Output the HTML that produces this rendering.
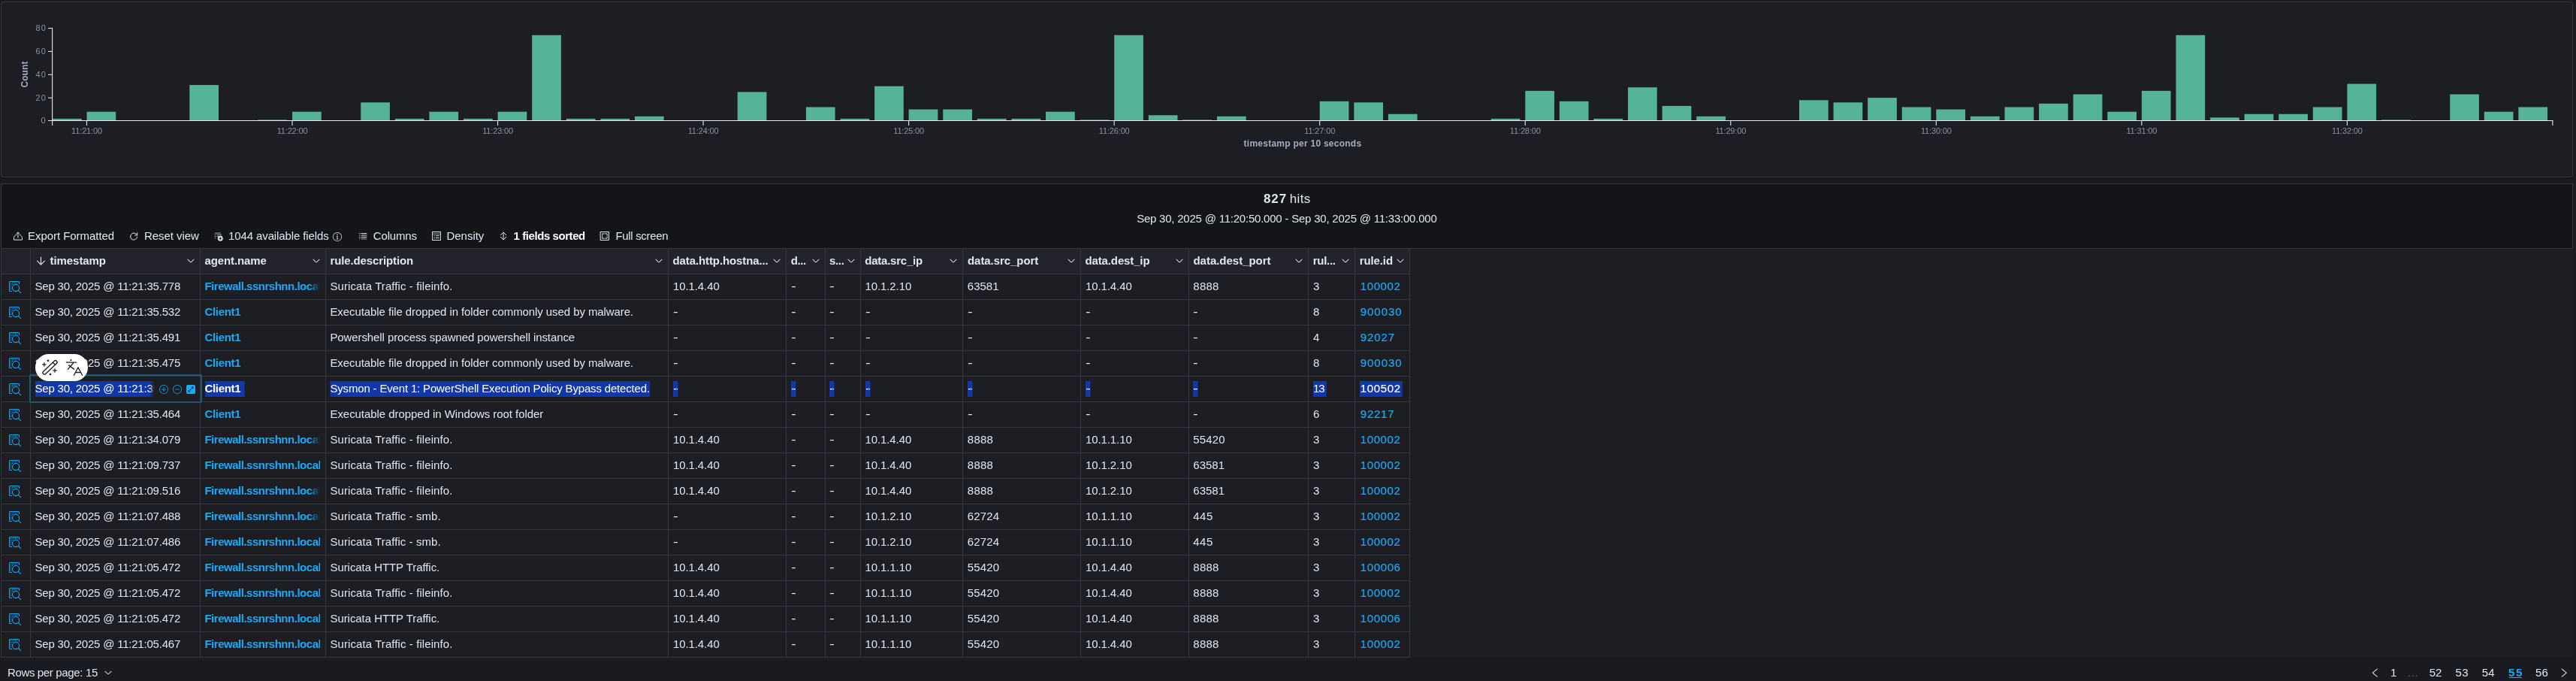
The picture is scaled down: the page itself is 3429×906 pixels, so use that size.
<!DOCTYPE html>
<html><head><meta charset="utf-8"><title>Events</title>
<style>
html,body{margin:0;padding:0}
body{width:3429px;height:906px;background:#1a1b20;position:relative;overflow:hidden;font-family:"Liberation Sans", sans-serif;color:#dfe5ef;-webkit-font-smoothing:antialiased}
.t{position:absolute;white-space:pre;display:block}
.a{position:absolute}
.v{position:absolute;width:1px;background:#343741}
.h{position:absolute;height:1px;background:#343741}
svg{position:absolute;overflow:visible}
.sel{background:#1237a8;color:#fff !important;clip-path:inset(1px 0 0 0)}
</style></head><body><div id='root' style='position:absolute;left:0;top:0;width:3429px;height:906px;will-change:transform'>
<div class='a' style='left:1px;top:2px;width:3422px;height:232px;border:1px solid #343741;border-radius:3px;background:#1d1e24;box-shadow:0 2px 2px -1px rgba(0,0,0,.35)'></div><svg width='3429' height='240' style='left:0;top:0' viewBox='0 0 3429 240'><g fill='#54b399'><rect x='69.95' y='157.91' width='38.7' height='3.09'/><rect x='115.54' y='148.65' width='38.7' height='12.35'/><rect x='252.31' y='113.14' width='38.7' height='47.86'/><rect x='343.48' y='159.46' width='38.7' height='1.54'/><rect x='389.07' y='148.65' width='38.7' height='12.35'/><rect x='480.25' y='136.30' width='38.7' height='24.70'/><rect x='525.84' y='157.91' width='38.7' height='3.09'/><rect x='571.43' y='148.65' width='38.7' height='12.35'/><rect x='617.02' y='157.91' width='38.7' height='3.09'/><rect x='662.61' y='148.65' width='38.7' height='12.35'/><rect x='708.20' y='46.74' width='38.7' height='114.26'/><rect x='753.79' y='157.91' width='38.7' height='3.09'/><rect x='799.37' y='157.91' width='38.7' height='3.09'/><rect x='844.96' y='154.82' width='38.7' height='6.18'/><rect x='981.73' y='122.40' width='38.7' height='38.60'/><rect x='1072.91' y='142.47' width='38.7' height='18.53'/><rect x='1118.50' y='157.91' width='38.7' height='3.09'/><rect x='1164.09' y='114.68' width='38.7' height='46.32'/><rect x='1209.67' y='145.56' width='38.7' height='15.44'/><rect x='1255.26' y='145.56' width='38.7' height='15.44'/><rect x='1300.85' y='157.91' width='38.7' height='3.09'/><rect x='1346.44' y='157.91' width='38.7' height='3.09'/><rect x='1392.03' y='148.65' width='38.7' height='12.35'/><rect x='1437.62' y='159.46' width='38.7' height='1.54'/><rect x='1483.21' y='46.74' width='38.7' height='114.26'/><rect x='1528.80' y='153.28' width='38.7' height='7.72'/><rect x='1574.39' y='159.46' width='38.7' height='1.54'/><rect x='1619.98' y='154.82' width='38.7' height='6.18'/><rect x='1756.74' y='134.75' width='38.7' height='26.25'/><rect x='1802.33' y='136.30' width='38.7' height='24.70'/><rect x='1847.92' y='151.74' width='38.7' height='9.26'/><rect x='1984.69' y='157.91' width='38.7' height='3.09'/><rect x='2030.28' y='120.86' width='38.7' height='40.14'/><rect x='2075.87' y='134.75' width='38.7' height='26.25'/><rect x='2121.45' y='157.91' width='38.7' height='3.09'/><rect x='2167.04' y='116.22' width='38.7' height='44.78'/><rect x='2212.63' y='140.93' width='38.7' height='20.07'/><rect x='2258.22' y='154.82' width='38.7' height='6.18'/><rect x='2394.99' y='133.21' width='38.7' height='27.79'/><rect x='2440.58' y='136.30' width='38.7' height='24.70'/><rect x='2486.17' y='130.12' width='38.7' height='30.88'/><rect x='2531.76' y='142.47' width='38.7' height='18.53'/><rect x='2577.34' y='145.56' width='38.7' height='15.44'/><rect x='2622.93' y='154.82' width='38.7' height='6.18'/><rect x='2668.52' y='142.47' width='38.7' height='18.53'/><rect x='2714.11' y='137.84' width='38.7' height='23.16'/><rect x='2759.70' y='125.49' width='38.7' height='35.51'/><rect x='2805.29' y='148.65' width='38.7' height='12.35'/><rect x='2850.88' y='120.86' width='38.7' height='40.14'/><rect x='2896.47' y='46.74' width='38.7' height='114.26'/><rect x='2942.06' y='156.37' width='38.7' height='4.63'/><rect x='2987.65' y='151.74' width='38.7' height='9.26'/><rect x='3033.23' y='151.74' width='38.7' height='9.26'/><rect x='3078.82' y='142.47' width='38.7' height='18.53'/><rect x='3124.41' y='111.59' width='38.7' height='49.41'/><rect x='3170.00' y='159.46' width='38.7' height='1.54'/><rect x='3261.18' y='125.49' width='38.7' height='35.51'/><rect x='3306.77' y='148.65' width='38.7' height='12.35'/><rect x='3352.36' y='142.47' width='38.7' height='18.53'/></g><g stroke='#e4e6ea' stroke-width='1.1' fill='none'><path d='M69.6 37V167'/><path d='M64 160.55H3398.4'/><path d='M64 37.6H69.5'/><path d='M64 68.45H69.5'/><path d='M64 99.3H69.5'/><path d='M64 130.2H69.5'/><path d='M115.49 160.5V167'/><path d='M389.02 160.5V167'/><path d='M662.56 160.5V167'/><path d='M936.09 160.5V167'/><path d='M1209.62 160.5V167'/><path d='M1483.16 160.5V167'/><path d='M1756.69 160.5V167'/><path d='M2030.23 160.5V167'/><path d='M2303.76 160.5V167'/><path d='M2577.30 160.5V167'/><path d='M2850.83 160.5V167'/><path d='M3124.36 160.5V167'/><path d='M3397.9 160.5V167'/></g></svg><span class='t' style='left:47.55px;top:29.10px;font-size:11px;line-height:16px;color:#8b92a0;letter-spacing:1.157px;'>80</span><span class='t' style='left:47.55px;top:59.95px;font-size:11px;line-height:16px;color:#8b92a0;letter-spacing:1.157px;'>60</span><span class='t' style='left:47.55px;top:90.80px;font-size:11px;line-height:16px;color:#8b92a0;letter-spacing:1.157px;'>40</span><span class='t' style='left:47.55px;top:121.70px;font-size:11px;line-height:16px;color:#8b92a0;letter-spacing:1.157px;'>20</span><span class='t' style='left:54.55px;top:152.10px;font-size:11px;line-height:16px;color:#8b92a0;'>0</span><span class='t' style='left:95.12px;top:166.00px;font-size:11px;line-height:16px;color:#8b92a0;letter-spacing:-0.153px;'>11:21:00</span><span class='t' style='left:368.65px;top:166.00px;font-size:11px;line-height:16px;color:#8b92a0;letter-spacing:-0.153px;'>11:22:00</span><span class='t' style='left:642.19px;top:166.00px;font-size:11px;line-height:16px;color:#8b92a0;letter-spacing:-0.153px;'>11:23:00</span><span class='t' style='left:915.72px;top:166.00px;font-size:11px;line-height:16px;color:#8b92a0;letter-spacing:-0.153px;'>11:24:00</span><span class='t' style='left:1189.25px;top:166.00px;font-size:11px;line-height:16px;color:#8b92a0;letter-spacing:-0.153px;'>11:25:00</span><span class='t' style='left:1462.79px;top:166.00px;font-size:11px;line-height:16px;color:#8b92a0;letter-spacing:-0.153px;'>11:26:00</span><span class='t' style='left:1736.32px;top:166.00px;font-size:11px;line-height:16px;color:#8b92a0;letter-spacing:-0.153px;'>11:27:00</span><span class='t' style='left:2009.86px;top:166.00px;font-size:11px;line-height:16px;color:#8b92a0;letter-spacing:-0.153px;'>11:28:00</span><span class='t' style='left:2283.39px;top:166.00px;font-size:11px;line-height:16px;color:#8b92a0;letter-spacing:-0.153px;'>11:29:00</span><span class='t' style='left:2556.92px;top:166.00px;font-size:11px;line-height:16px;color:#8b92a0;letter-spacing:-0.153px;'>11:30:00</span><span class='t' style='left:2830.46px;top:166.00px;font-size:11px;line-height:16px;color:#8b92a0;letter-spacing:-0.153px;'>11:31:00</span><span class='t' style='left:3103.99px;top:166.00px;font-size:11px;line-height:16px;color:#8b92a0;letter-spacing:-0.153px;'>11:32:00</span><span class='t' style='left:1655.61px;top:182.10px;font-size:12px;line-height:18px;color:#a3aabb;font-weight:700;letter-spacing:0.249px;'>timestamp per 10 seconds</span><span class='t' style='left:32.8px;top:99.3px;font-size:12px;line-height:12px;font-weight:700;color:#a3aabb;letter-spacing:0.1px;transform:translate(-50%,-50%) rotate(-90deg)'>Count</span><div class='a' style='left:1px;top:244px;width:3422px;height:85px;border:1px solid #343741;background:#141519'></div><span class='t' style='left:1682.05px;top:252.00px;font-size:17px;line-height:26px;color:#dfe5ef;font-weight:700;letter-spacing:0.862px;'>827</span><span class='t' style='left:1716.63px;top:252.00px;font-size:17px;line-height:26px;color:#dfe5ef;letter-spacing:0.391px;'>hits</span><span class='t' style='left:1513.14px;top:280.00px;font-size:15px;line-height:22px;color:#dfe5ef;letter-spacing:-0.219px;'>Sep 30, 2025 @ 11:20:50.000 - Sep 30, 2025 @ 11:33:00.000</span><span class='t' style='left:37.04px;top:303.00px;font-size:15px;line-height:22px;color:#dfe5ef;letter-spacing:-0.052px;'>Export Formatted</span><span class='t' style='left:192.04px;top:303.00px;font-size:15px;line-height:22px;color:#dfe5ef;letter-spacing:-0.061px;'>Reset view</span><span class='t' style='left:304.04px;top:303.00px;font-size:15px;line-height:22px;color:#dfe5ef;letter-spacing:-0.111px;'>1044 available fields</span><span class='t' style='left:496.84px;top:303.00px;font-size:15px;line-height:22px;color:#dfe5ef;letter-spacing:-0.162px;'>Columns</span><span class='t' style='left:594.44px;top:303.00px;font-size:15px;line-height:22px;color:#dfe5ef;letter-spacing:-0.019px;'>Density</span><span class='t' style='left:683.54px;top:303.00px;font-size:15px;line-height:22px;color:#ffffff;font-weight:700;letter-spacing:-0.428px;'>1 fields sorted</span><span class='t' style='left:819.44px;top:303.00px;font-size:15px;line-height:22px;color:#dfe5ef;letter-spacing:-0.325px;'>Full screen</span><svg style='left:17.5px;top:307.5px' width='12' height='12' viewBox='0 0 12 12' fill='none' stroke='#dfe5ef' stroke-width='1.0' stroke-linecap='round' stroke-linejoin='round'><path d='M3.7 4.4C1.7 5 .5 6.800.5 8.700V11.100H11.500V8.700C11.500 6.800 10.300 5 8.300 4.400'/><path d='M5.950 8.200V1.100M3.950 3 5.950 1 7.950 3'/></svg><svg style='left:172px;top:307.5px' width='12' height='12' viewBox='0 0 12 12' fill='none' stroke='#dfe5ef' stroke-width='1.0' stroke-linecap='round' stroke-linejoin='round'><path d='M9.450 3.400A4.550 4.550 0 1 0 10.700 7.100'/><path d='M10.700 1.800V5H7.600'/></svg><svg style='left:284.5px;top:308.5px' width='12' height='12' viewBox='0 0 16 16' fill='#dfe5ef' ><path d='M1 1h11v1H1zM1 4h2v1H1zM1 7h2v1H1zM1 10h2v1H1zM5 4h8v1H5zM5 7h3v1H5z'/><circle cx='11' cy='11' r='4.6'/><path d='M11 8.6v4.8M8.6 11h4.8' stroke='#141519' stroke-width='1.3' fill='none'/></svg><svg style='left:443px;top:309px' width='12' height='12' viewBox='0 0 16 16' fill='#dfe5ef' ><path d='M8 16A8 8 0 1 1 8 0a8 8 0 0 1 0 16zm0-1A7 7 0 1 0 8 1a7 7 0 0 0 0 14z'/><circle cx='8' cy='4.3' r='1.1'/><path d='M6.3 6.6h2.4v5h1.2v1H6.1v-1h1.4v-4H6.3z'/></svg><svg style='left:477px;top:308px' width='12' height='12' viewBox='0 0 16 16' fill='#dfe5ef' ><path d='M1.5 2.6h1.6v1.3H1.5zM1.5 5.9h1.6v1.3H1.5zM1.5 9.2h1.6v1.3H1.5zM1.5 12.5h1.6v1.3H1.5zM5 2.6h10v1.3H5zM5 5.9h10v1.3H5zM5 9.2h10v1.3H5zM5 12.5h10v1.3H5z'/></svg><svg style='left:575px;top:308px' width='12' height='12' viewBox='0 0 16 16' fill='#dfe5ef' ><path d='M0 0h16v16H0zm1.2 1.2v2.4h13.6V1.2zM1.2 4.8v10h13.6v-10z' fill-rule='evenodd'/><path d='M3 7h2v1.3H3zM6.5 7H13v1.3H6.5zM3 10.6h2v1.3H3zM6.5 10.6H13v1.3H6.5z'/></svg><svg style='left:663.5px;top:308px' width='12' height='12' viewBox='0 0 12 12' fill='none' stroke='#dfe5ef' stroke-width='1.0' stroke-linecap='round' stroke-linejoin='round'><path d='M6.100 1.300V10.800M2.500 4.700 6.100 1.100 9.700 4.700M2.500 7.300 6.100 10.900 9.700 7.300'/></svg><svg style='left:799px;top:308px' width='12' height='12' viewBox='0 0 12 12' fill='none' stroke='#dfe5ef' stroke-width='1.0' stroke-linecap='round' stroke-linejoin='round'><path d='M.5.5H11.500V11.500H.5z'/><path d='M2.700 5.800V2.900H5.700M6.300 2.900H9.200V5.800M9.200 6.300V9.200H6.300M5.700 9.200H2.700V6.300' stroke-linecap='butt' stroke-linejoin='miter'/></svg><div class='a' style='left:1px;top:331px;width:3424px;height:544px;background:#1d1e24'></div><div class='a' style='left:2px;top:331px;width:1874px;height:33px;background:#22232b'></div><div class='h' style='left:1px;top:330px;width:3424px'></div><div class='v' style='left:1px;top:330px;height:545px'></div><div class='v' style='left:40px;top:331px;height:544px'></div><div class='v' style='left:266px;top:331px;height:544px'></div><div class='v' style='left:433px;top:331px;height:544px'></div><div class='v' style='left:889px;top:331px;height:544px'></div><div class='v' style='left:1046px;top:331px;height:544px'></div><div class='v' style='left:1098px;top:331px;height:544px'></div><div class='v' style='left:1145px;top:331px;height:544px'></div><div class='v' style='left:1281px;top:331px;height:544px'></div><div class='v' style='left:1438px;top:331px;height:544px'></div><div class='v' style='left:1582px;top:331px;height:544px'></div><div class='v' style='left:1741px;top:331px;height:544px'></div><div class='v' style='left:1803px;top:331px;height:544px'></div><div class='v' style='left:1876px;top:331px;height:544px'></div><div class='h' style='left:1px;top:364px;width:1876px'></div><div class='h' style='left:1px;top:398px;width:1876px'></div><div class='h' style='left:1px;top:432px;width:1876px'></div><div class='h' style='left:1px;top:466px;width:1876px'></div><div class='h' style='left:1px;top:500px;width:1876px'></div><div class='h' style='left:1px;top:534px;width:1876px'></div><div class='h' style='left:1px;top:568px;width:1876px'></div><div class='h' style='left:1px;top:602px;width:1876px'></div><div class='h' style='left:1px;top:636px;width:1876px'></div><div class='h' style='left:1px;top:670px;width:1876px'></div><div class='h' style='left:1px;top:704px;width:1876px'></div><div class='h' style='left:1px;top:738px;width:1876px'></div><div class='h' style='left:1px;top:772px;width:1876px'></div><div class='h' style='left:1px;top:806px;width:1876px'></div><div class='h' style='left:1px;top:840px;width:1876px'></div><div class='h' style='left:1px;top:874px;width:1876px'></div><span class='t' style='left:66.54px;top:336.00px;font-size:15px;line-height:22px;color:#dfe5ef;font-weight:700;letter-spacing:-0.065px;'>timestamp</span><svg style='left:248px;top:341px' width='12' height='12' viewBox='0 0 16 16' fill='#dfe5ef' ><path d='M13.069 5.157 8.384 9.768a.546.546 0 0 1-.768 0L2.93 5.158a.552.552 0 0 0-.771 0 .53.53 0 0 0 0 .759l4.684 4.61c.641.631 1.672.63 2.312 0l4.684-4.61a.53.53 0 0 0 0-.76.552.552 0 0 0-.771 0z'/></svg><span class='t' style='left:272.54px;top:336.00px;font-size:15px;line-height:22px;color:#dfe5ef;font-weight:700;letter-spacing:-0.116px;'>agent.name</span><svg style='left:415px;top:341px' width='12' height='12' viewBox='0 0 16 16' fill='#dfe5ef' ><path d='M13.069 5.157 8.384 9.768a.546.546 0 0 1-.768 0L2.93 5.158a.552.552 0 0 0-.771 0 .53.53 0 0 0 0 .759l4.684 4.61c.641.631 1.672.63 2.312 0l4.684-4.61a.53.53 0 0 0 0-.76.552.552 0 0 0-.771 0z'/></svg><span class='t' style='left:439.44px;top:336.00px;font-size:15px;line-height:22px;color:#dfe5ef;font-weight:700;letter-spacing:-0.121px;'>rule.description</span><svg style='left:871px;top:341px' width='12' height='12' viewBox='0 0 16 16' fill='#dfe5ef' ><path d='M13.069 5.157 8.384 9.768a.546.546 0 0 1-.768 0L2.93 5.158a.552.552 0 0 0-.771 0 .53.53 0 0 0 0 .759l4.684 4.61c.641.631 1.672.63 2.312 0l4.684-4.61a.53.53 0 0 0 0-.76.552.552 0 0 0-.771 0z'/></svg><span class='t' style='left:895.54px;top:336.00px;font-size:15px;line-height:22px;color:#dfe5ef;font-weight:700;letter-spacing:-0.109px;'>data.http.hostna...</span><svg style='left:1028px;top:341px' width='12' height='12' viewBox='0 0 16 16' fill='#dfe5ef' ><path d='M13.069 5.157 8.384 9.768a.546.546 0 0 1-.768 0L2.93 5.158a.552.552 0 0 0-.771 0 .53.53 0 0 0 0 .759l4.684 4.61c.641.631 1.672.63 2.312 0l4.684-4.61a.53.53 0 0 0 0-.76.552.552 0 0 0-.771 0z'/></svg><span class='t' style='left:1052.84px;top:336.00px;font-size:15px;line-height:22px;color:#dfe5ef;font-weight:700;letter-spacing:-0.419px;'>d...</span><svg style='left:1080px;top:341px' width='12' height='12' viewBox='0 0 16 16' fill='#dfe5ef' ><path d='M13.069 5.157 8.384 9.768a.546.546 0 0 1-.768 0L2.93 5.158a.552.552 0 0 0-.771 0 .53.53 0 0 0 0 .759l4.684 4.61c.641.631 1.672.63 2.312 0l4.684-4.61a.53.53 0 0 0 0-.76.552.552 0 0 0-.771 0z'/></svg><span class='t' style='left:1103.94px;top:336.00px;font-size:15px;line-height:22px;color:#dfe5ef;font-weight:700;letter-spacing:-0.315px;'>s...</span><svg style='left:1127px;top:341px' width='12' height='12' viewBox='0 0 16 16' fill='#dfe5ef' ><path d='M13.069 5.157 8.384 9.768a.546.546 0 0 1-.768 0L2.93 5.158a.552.552 0 0 0-.771 0 .53.53 0 0 0 0 .759l4.684 4.61c.641.631 1.672.63 2.312 0l4.684-4.61a.53.53 0 0 0 0-.76.552.552 0 0 0-.771 0z'/></svg><span class='t' style='left:1151.24px;top:336.00px;font-size:15px;line-height:22px;color:#dfe5ef;font-weight:700;letter-spacing:-0.230px;'>data.src_ip</span><svg style='left:1263px;top:341px' width='12' height='12' viewBox='0 0 16 16' fill='#dfe5ef' ><path d='M13.069 5.157 8.384 9.768a.546.546 0 0 1-.768 0L2.93 5.158a.552.552 0 0 0-.771 0 .53.53 0 0 0 0 .759l4.684 4.61c.641.631 1.672.63 2.312 0l4.684-4.61a.53.53 0 0 0 0-.76.552.552 0 0 0-.771 0z'/></svg><span class='t' style='left:1288.04px;top:336.00px;font-size:15px;line-height:22px;color:#dfe5ef;font-weight:700;letter-spacing:-0.069px;'>data.src_port</span><svg style='left:1420px;top:341px' width='12' height='12' viewBox='0 0 16 16' fill='#dfe5ef' ><path d='M13.069 5.157 8.384 9.768a.546.546 0 0 1-.768 0L2.93 5.158a.552.552 0 0 0-.771 0 .53.53 0 0 0 0 .759l4.684 4.61c.641.631 1.672.63 2.312 0l4.684-4.61a.53.53 0 0 0 0-.76.552.552 0 0 0-.771 0z'/></svg><span class='t' style='left:1444.54px;top:336.00px;font-size:15px;line-height:22px;color:#dfe5ef;font-weight:700;letter-spacing:-0.138px;'>data.dest_ip</span><svg style='left:1564px;top:341px' width='12' height='12' viewBox='0 0 16 16' fill='#dfe5ef' ><path d='M13.069 5.157 8.384 9.768a.546.546 0 0 1-.768 0L2.93 5.158a.552.552 0 0 0-.771 0 .53.53 0 0 0 0 .759l4.684 4.61c.641.631 1.672.63 2.312 0l4.684-4.61a.53.53 0 0 0 0-.76.552.552 0 0 0-.771 0z'/></svg><span class='t' style='left:1588.44px;top:336.00px;font-size:15px;line-height:22px;color:#dfe5ef;font-weight:700;letter-spacing:-0.019px;'>data.dest_port</span><svg style='left:1723px;top:341px' width='12' height='12' viewBox='0 0 16 16' fill='#dfe5ef' ><path d='M13.069 5.157 8.384 9.768a.546.546 0 0 1-.768 0L2.93 5.158a.552.552 0 0 0-.771 0 .53.53 0 0 0 0 .759l4.684 4.61c.641.631 1.672.63 2.312 0l4.684-4.61a.53.53 0 0 0 0-.76.552.552 0 0 0-.771 0z'/></svg><span class='t' style='left:1747.74px;top:336.00px;font-size:15px;line-height:22px;color:#dfe5ef;font-weight:700;letter-spacing:-0.292px;'>rul...</span><svg style='left:1785px;top:341px' width='12' height='12' viewBox='0 0 16 16' fill='#dfe5ef' ><path d='M13.069 5.157 8.384 9.768a.546.546 0 0 1-.768 0L2.93 5.158a.552.552 0 0 0-.771 0 .53.53 0 0 0 0 .759l4.684 4.61c.641.631 1.672.63 2.312 0l4.684-4.61a.53.53 0 0 0 0-.76.552.552 0 0 0-.771 0z'/></svg><span class='t' style='left:1809.74px;top:336.00px;font-size:15px;line-height:22px;color:#dfe5ef;font-weight:700;letter-spacing:-0.117px;'>rule.id</span><svg style='left:1858px;top:341px' width='12' height='12' viewBox='0 0 16 16' fill='#dfe5ef' ><path d='M13.069 5.157 8.384 9.768a.546.546 0 0 1-.768 0L2.93 5.158a.552.552 0 0 0-.771 0 .53.53 0 0 0 0 .759l4.684 4.61c.641.631 1.672.63 2.312 0l4.684-4.61a.53.53 0 0 0 0-.76.552.552 0 0 0-.771 0z'/></svg><svg style='left:48px;top:340px' width='14' height='14' viewBox='0 0 14 14' fill='none' stroke='#dfe5ef' stroke-width='1.15' stroke-linecap='round' stroke-linejoin='round'><path d='M6.5 2V12M1.6 7.2 6.5 12.1 11.4 7.2'/></svg><svg style='left:12px;top:374px' width='16' height='16' viewBox='0 0 16 16' fill='#1ba9f5' ><path d='M1.5 0h11A1.5 1.5 0 0 1 14 1.5V3.600a.5.5 0 0 1-1 0V1.500a.5.5 0 0 0-.5-.5h-11a.5.5 0 0 0-.5.5v11a.5.5 0 0 0 .5.5H3.600a.5.5 0 0 1 0 1H1.500A1.500 1.500 0 0 1 0 12.500v-11A1.500 1.500 0 0 1 1.500 0z'/><circle cx='2.5' cy='2.5' r='.55'/><circle cx='4.5' cy='2.5' r='.55'/><circle cx='6.5' cy='2.5' r='.55'/><circle cx='8.5' cy='2.5' r='.55'/><circle cx='10.5' cy='2.5' r='.55'/><circle cx='2.5' cy='4.5' r='.55'/><circle cx='2.5' cy='6.5' r='.55'/><circle cx='2.5' cy='8.5' r='.55'/><circle cx='2.5' cy='10.5' r='.55'/><circle cx='4.5' cy='4.5' r='.55'/><circle cx='9.050' cy='9.050' r='4.550' fill='none' stroke='#1ba9f5' stroke-width='1.050'/><path d='M12.400 12.400 15.550 15.550' stroke='#1ba9f5' stroke-width='1.050' stroke-linecap='round' fill='none'/></svg><span class='t' style='left:46.54px;top:370.00px;font-size:15px;line-height:22px;color:#dfe5ef;letter-spacing:-0.214px;'>Sep 30, 2025 @ 11:21:35.778</span><span class='t' style='left:272.44px;top:370.00px;font-size:15px;line-height:22px;color:#1ba9f5;font-weight:700;letter-spacing:-0.485px;width:154px;overflow:hidden;-webkit-mask-image:linear-gradient(to right,#000 calc(100% - 14px),transparent 100%);mask-image:linear-gradient(to right,#000 calc(100% - 14px),transparent 100%);'>Firewall.ssnrshnn.local</span><span class='t' style='left:439.44px;top:370.00px;font-size:15px;line-height:22px;color:#dfe5ef;letter-spacing:0.085px;'>Suricata Traffic - fileinfo.</span><span class='t' style='left:896.04px;top:370.00px;font-size:15px;line-height:22px;color:#dfe5ef;letter-spacing:-0.106px;'>10.1.4.40</span><span class='t' style='left:1053.00px;top:370.00px;font-size:15px;line-height:22px;color:#dfe5ef;transform:scaleX(1.35);transform-origin:0 50%;'>-</span><span class='t' style='left:1104.10px;top:370.00px;font-size:15px;line-height:22px;color:#dfe5ef;transform:scaleX(1.35);transform-origin:0 50%;'>-</span><span class='t' style='left:1151.54px;top:370.00px;font-size:15px;line-height:22px;color:#dfe5ef;letter-spacing:-0.106px;'>10.1.2.10</span><span class='t' style='left:1287.84px;top:370.00px;font-size:15px;line-height:22px;color:#dfe5ef;'>63581</span><span class='t' style='left:1445.04px;top:370.00px;font-size:15px;line-height:22px;color:#dfe5ef;letter-spacing:-0.106px;'>10.1.4.40</span><span class='t' style='left:1588.34px;top:370.00px;font-size:15px;line-height:22px;color:#dfe5ef;letter-spacing:0.246px;'>8888</span><span class='t' style='left:1747.94px;top:370.00px;font-size:15px;line-height:22px;color:#dfe5ef;'>3</span><span class='t' style='left:1810.84px;top:370.00px;font-size:15px;line-height:22px;color:#1ba9f5;letter-spacing:0.570px;-webkit-text-stroke:0.2px #1ba9f5;'>100002</span><svg style='left:12px;top:408px' width='16' height='16' viewBox='0 0 16 16' fill='#1ba9f5' ><path d='M1.5 0h11A1.5 1.5 0 0 1 14 1.5V3.600a.5.5 0 0 1-1 0V1.500a.5.5 0 0 0-.5-.5h-11a.5.5 0 0 0-.5.5v11a.5.5 0 0 0 .5.5H3.600a.5.5 0 0 1 0 1H1.500A1.500 1.500 0 0 1 0 12.500v-11A1.500 1.500 0 0 1 1.500 0z'/><circle cx='2.5' cy='2.5' r='.55'/><circle cx='4.5' cy='2.5' r='.55'/><circle cx='6.5' cy='2.5' r='.55'/><circle cx='8.5' cy='2.5' r='.55'/><circle cx='10.5' cy='2.5' r='.55'/><circle cx='2.5' cy='4.5' r='.55'/><circle cx='2.5' cy='6.5' r='.55'/><circle cx='2.5' cy='8.5' r='.55'/><circle cx='2.5' cy='10.5' r='.55'/><circle cx='4.5' cy='4.5' r='.55'/><circle cx='9.050' cy='9.050' r='4.550' fill='none' stroke='#1ba9f5' stroke-width='1.050'/><path d='M12.400 12.400 15.550 15.550' stroke='#1ba9f5' stroke-width='1.050' stroke-linecap='round' fill='none'/></svg><span class='t' style='left:46.54px;top:404.00px;font-size:15px;line-height:22px;color:#dfe5ef;letter-spacing:-0.214px;'>Sep 30, 2025 @ 11:21:35.532</span><span class='t' style='left:272.54px;top:404.00px;font-size:15px;line-height:22px;color:#1ba9f5;font-weight:700;letter-spacing:-0.334px;'>Client1</span><span class='t' style='left:439.44px;top:404.00px;font-size:15px;line-height:22px;color:#dfe5ef;letter-spacing:-0.083px;'>Executable file dropped in folder commonly used by malware.</span><span class='t' style='left:896.00px;top:404.00px;font-size:15px;line-height:22px;color:#dfe5ef;transform:scaleX(1.35);transform-origin:0 50%;'>-</span><span class='t' style='left:1053.00px;top:404.00px;font-size:15px;line-height:22px;color:#dfe5ef;transform:scaleX(1.35);transform-origin:0 50%;'>-</span><span class='t' style='left:1104.10px;top:404.00px;font-size:15px;line-height:22px;color:#dfe5ef;transform:scaleX(1.35);transform-origin:0 50%;'>-</span><span class='t' style='left:1151.50px;top:404.00px;font-size:15px;line-height:22px;color:#dfe5ef;transform:scaleX(1.35);transform-origin:0 50%;'>-</span><span class='t' style='left:1287.80px;top:404.00px;font-size:15px;line-height:22px;color:#dfe5ef;transform:scaleX(1.35);transform-origin:0 50%;'>-</span><span class='t' style='left:1445.00px;top:404.00px;font-size:15px;line-height:22px;color:#dfe5ef;transform:scaleX(1.35);transform-origin:0 50%;'>-</span><span class='t' style='left:1588.30px;top:404.00px;font-size:15px;line-height:22px;color:#dfe5ef;transform:scaleX(1.35);transform-origin:0 50%;'>-</span><span class='t' style='left:1747.94px;top:404.00px;font-size:15px;line-height:22px;color:#dfe5ef;'>8</span><span class='t' style='left:1810.84px;top:404.00px;font-size:15px;line-height:22px;color:#1ba9f5;letter-spacing:0.930px;-webkit-text-stroke:0.2px #1ba9f5;'>900030</span><svg style='left:12px;top:442px' width='16' height='16' viewBox='0 0 16 16' fill='#1ba9f5' ><path d='M1.5 0h11A1.5 1.5 0 0 1 14 1.5V3.600a.5.5 0 0 1-1 0V1.500a.5.5 0 0 0-.5-.5h-11a.5.5 0 0 0-.5.5v11a.5.5 0 0 0 .5.5H3.600a.5.5 0 0 1 0 1H1.500A1.500 1.500 0 0 1 0 12.500v-11A1.500 1.500 0 0 1 1.500 0z'/><circle cx='2.5' cy='2.5' r='.55'/><circle cx='4.5' cy='2.5' r='.55'/><circle cx='6.5' cy='2.5' r='.55'/><circle cx='8.5' cy='2.5' r='.55'/><circle cx='10.5' cy='2.5' r='.55'/><circle cx='2.5' cy='4.5' r='.55'/><circle cx='2.5' cy='6.5' r='.55'/><circle cx='2.5' cy='8.5' r='.55'/><circle cx='2.5' cy='10.5' r='.55'/><circle cx='4.5' cy='4.5' r='.55'/><circle cx='9.050' cy='9.050' r='4.550' fill='none' stroke='#1ba9f5' stroke-width='1.050'/><path d='M12.400 12.400 15.550 15.550' stroke='#1ba9f5' stroke-width='1.050' stroke-linecap='round' fill='none'/></svg><span class='t' style='left:46.54px;top:438.00px;font-size:15px;line-height:22px;color:#dfe5ef;letter-spacing:-0.214px;'>Sep 30, 2025 @ 11:21:35.491</span><span class='t' style='left:272.54px;top:438.00px;font-size:15px;line-height:22px;color:#1ba9f5;font-weight:700;letter-spacing:-0.334px;'>Client1</span><span class='t' style='left:439.44px;top:438.00px;font-size:15px;line-height:22px;color:#dfe5ef;letter-spacing:-0.099px;'>Powershell process spawned powershell instance</span><span class='t' style='left:896.00px;top:438.00px;font-size:15px;line-height:22px;color:#dfe5ef;transform:scaleX(1.35);transform-origin:0 50%;'>-</span><span class='t' style='left:1053.00px;top:438.00px;font-size:15px;line-height:22px;color:#dfe5ef;transform:scaleX(1.35);transform-origin:0 50%;'>-</span><span class='t' style='left:1104.10px;top:438.00px;font-size:15px;line-height:22px;color:#dfe5ef;transform:scaleX(1.35);transform-origin:0 50%;'>-</span><span class='t' style='left:1151.50px;top:438.00px;font-size:15px;line-height:22px;color:#dfe5ef;transform:scaleX(1.35);transform-origin:0 50%;'>-</span><span class='t' style='left:1287.80px;top:438.00px;font-size:15px;line-height:22px;color:#dfe5ef;transform:scaleX(1.35);transform-origin:0 50%;'>-</span><span class='t' style='left:1445.00px;top:438.00px;font-size:15px;line-height:22px;color:#dfe5ef;transform:scaleX(1.35);transform-origin:0 50%;'>-</span><span class='t' style='left:1588.30px;top:438.00px;font-size:15px;line-height:22px;color:#dfe5ef;transform:scaleX(1.35);transform-origin:0 50%;'>-</span><span class='t' style='left:1747.94px;top:438.00px;font-size:15px;line-height:22px;color:#dfe5ef;'>4</span><span class='t' style='left:1810.84px;top:438.00px;font-size:15px;line-height:22px;color:#1ba9f5;letter-spacing:0.874px;-webkit-text-stroke:0.2px #1ba9f5;'>92027</span><svg style='left:12px;top:476px' width='16' height='16' viewBox='0 0 16 16' fill='#1ba9f5' ><path d='M1.5 0h11A1.5 1.5 0 0 1 14 1.5V3.600a.5.5 0 0 1-1 0V1.500a.5.5 0 0 0-.5-.5h-11a.5.5 0 0 0-.5.5v11a.5.5 0 0 0 .5.5H3.600a.5.5 0 0 1 0 1H1.500A1.500 1.500 0 0 1 0 12.500v-11A1.500 1.500 0 0 1 1.500 0z'/><circle cx='2.5' cy='2.5' r='.55'/><circle cx='4.5' cy='2.5' r='.55'/><circle cx='6.5' cy='2.5' r='.55'/><circle cx='8.5' cy='2.5' r='.55'/><circle cx='10.5' cy='2.5' r='.55'/><circle cx='2.5' cy='4.5' r='.55'/><circle cx='2.5' cy='6.5' r='.55'/><circle cx='2.5' cy='8.5' r='.55'/><circle cx='2.5' cy='10.5' r='.55'/><circle cx='4.5' cy='4.5' r='.55'/><circle cx='9.050' cy='9.050' r='4.550' fill='none' stroke='#1ba9f5' stroke-width='1.050'/><path d='M12.400 12.400 15.550 15.550' stroke='#1ba9f5' stroke-width='1.050' stroke-linecap='round' fill='none'/></svg><span class='t' style='left:46.54px;top:472.00px;font-size:15px;line-height:22px;color:#dfe5ef;letter-spacing:-0.214px;'>Sep 30, 2025 @ 11:21:35.475</span><span class='t' style='left:272.54px;top:472.00px;font-size:15px;line-height:22px;color:#1ba9f5;font-weight:700;letter-spacing:-0.334px;'>Client1</span><span class='t' style='left:439.44px;top:472.00px;font-size:15px;line-height:22px;color:#dfe5ef;letter-spacing:-0.083px;'>Executable file dropped in folder commonly used by malware.</span><span class='t' style='left:896.00px;top:472.00px;font-size:15px;line-height:22px;color:#dfe5ef;transform:scaleX(1.35);transform-origin:0 50%;'>-</span><span class='t' style='left:1053.00px;top:472.00px;font-size:15px;line-height:22px;color:#dfe5ef;transform:scaleX(1.35);transform-origin:0 50%;'>-</span><span class='t' style='left:1104.10px;top:472.00px;font-size:15px;line-height:22px;color:#dfe5ef;transform:scaleX(1.35);transform-origin:0 50%;'>-</span><span class='t' style='left:1151.50px;top:472.00px;font-size:15px;line-height:22px;color:#dfe5ef;transform:scaleX(1.35);transform-origin:0 50%;'>-</span><span class='t' style='left:1287.80px;top:472.00px;font-size:15px;line-height:22px;color:#dfe5ef;transform:scaleX(1.35);transform-origin:0 50%;'>-</span><span class='t' style='left:1445.00px;top:472.00px;font-size:15px;line-height:22px;color:#dfe5ef;transform:scaleX(1.35);transform-origin:0 50%;'>-</span><span class='t' style='left:1588.30px;top:472.00px;font-size:15px;line-height:22px;color:#dfe5ef;transform:scaleX(1.35);transform-origin:0 50%;'>-</span><span class='t' style='left:1747.94px;top:472.00px;font-size:15px;line-height:22px;color:#dfe5ef;'>8</span><span class='t' style='left:1810.84px;top:472.00px;font-size:15px;line-height:22px;color:#1ba9f5;letter-spacing:0.930px;-webkit-text-stroke:0.2px #1ba9f5;'>900030</span><svg style='left:12px;top:510px' width='16' height='16' viewBox='0 0 16 16' fill='#1ba9f5' ><path d='M1.5 0h11A1.5 1.5 0 0 1 14 1.5V3.600a.5.5 0 0 1-1 0V1.500a.5.5 0 0 0-.5-.5h-11a.5.5 0 0 0-.5.5v11a.5.5 0 0 0 .5.5H3.600a.5.5 0 0 1 0 1H1.500A1.500 1.500 0 0 1 0 12.500v-11A1.500 1.500 0 0 1 1.500 0z'/><circle cx='2.5' cy='2.5' r='.55'/><circle cx='4.5' cy='2.5' r='.55'/><circle cx='6.5' cy='2.5' r='.55'/><circle cx='8.5' cy='2.5' r='.55'/><circle cx='10.5' cy='2.5' r='.55'/><circle cx='2.5' cy='4.5' r='.55'/><circle cx='2.5' cy='6.5' r='.55'/><circle cx='2.5' cy='8.5' r='.55'/><circle cx='2.5' cy='10.5' r='.55'/><circle cx='4.5' cy='4.5' r='.55'/><circle cx='9.050' cy='9.050' r='4.550' fill='none' stroke='#1ba9f5' stroke-width='1.050'/><path d='M12.400 12.400 15.550 15.550' stroke='#1ba9f5' stroke-width='1.050' stroke-linecap='round' fill='none'/></svg><span class='t sel' style='left:46.54px;top:506.00px;font-size:15px;line-height:22px;color:#dfe5ef;letter-spacing:-0.214px;width:159px;overflow:hidden;-webkit-mask-image:linear-gradient(to right,#000 152px,transparent 159px);mask-image:linear-gradient(to right,#000 152px,transparent 159px);'>Sep 30, 2025 @ 11:21:35.470</span><span class='t sel' style='left:272.54px;top:506.00px;font-size:15px;line-height:22px;color:#1ba9f5;font-weight:700;letter-spacing:-0.334px;padding-right:5.5px;'>Client1</span><span class='t sel' style='left:439.44px;top:506.00px;font-size:15px;line-height:22px;color:#dfe5ef;letter-spacing:-0.170px;'>Sysmon - Event 1: PowerShell Execution Policy Bypass detected.</span><span class='t sel' style='left:896.00px;top:506.00px;font-size:15px;line-height:22px;color:#dfe5ef;transform:scaleX(1.35);transform-origin:0 50%;'>-</span><span class='t sel' style='left:1053.00px;top:506.00px;font-size:15px;line-height:22px;color:#dfe5ef;transform:scaleX(1.35);transform-origin:0 50%;'>-</span><span class='t sel' style='left:1104.10px;top:506.00px;font-size:15px;line-height:22px;color:#dfe5ef;transform:scaleX(1.35);transform-origin:0 50%;'>-</span><span class='t sel' style='left:1151.50px;top:506.00px;font-size:15px;line-height:22px;color:#dfe5ef;transform:scaleX(1.35);transform-origin:0 50%;'>-</span><span class='t sel' style='left:1287.80px;top:506.00px;font-size:15px;line-height:22px;color:#dfe5ef;transform:scaleX(1.35);transform-origin:0 50%;'>-</span><span class='t sel' style='left:1445.00px;top:506.00px;font-size:15px;line-height:22px;color:#dfe5ef;transform:scaleX(1.35);transform-origin:0 50%;'>-</span><span class='t sel' style='left:1588.30px;top:506.00px;font-size:15px;line-height:22px;color:#dfe5ef;transform:scaleX(1.35);transform-origin:0 50%;'>-</span><span class='t sel' style='left:1747.94px;top:506.00px;font-size:15px;line-height:22px;color:#dfe5ef;letter-spacing:-0.973px;padding-right:3px;'>13</span><span class='t sel' style='left:1810.84px;top:506.00px;font-size:15px;line-height:22px;color:#1ba9f5;letter-spacing:0.630px;-webkit-text-stroke:0.2px #fff;margin-left:-1px;padding:0 2px 0 1px;'>100502</span><svg style='left:12px;top:544px' width='16' height='16' viewBox='0 0 16 16' fill='#1ba9f5' ><path d='M1.5 0h11A1.5 1.5 0 0 1 14 1.5V3.600a.5.5 0 0 1-1 0V1.500a.5.5 0 0 0-.5-.5h-11a.5.5 0 0 0-.5.5v11a.5.5 0 0 0 .5.5H3.600a.5.5 0 0 1 0 1H1.500A1.500 1.500 0 0 1 0 12.500v-11A1.500 1.500 0 0 1 1.500 0z'/><circle cx='2.5' cy='2.5' r='.55'/><circle cx='4.5' cy='2.5' r='.55'/><circle cx='6.5' cy='2.5' r='.55'/><circle cx='8.5' cy='2.5' r='.55'/><circle cx='10.5' cy='2.5' r='.55'/><circle cx='2.5' cy='4.5' r='.55'/><circle cx='2.5' cy='6.5' r='.55'/><circle cx='2.5' cy='8.5' r='.55'/><circle cx='2.5' cy='10.5' r='.55'/><circle cx='4.5' cy='4.5' r='.55'/><circle cx='9.050' cy='9.050' r='4.550' fill='none' stroke='#1ba9f5' stroke-width='1.050'/><path d='M12.400 12.400 15.550 15.550' stroke='#1ba9f5' stroke-width='1.050' stroke-linecap='round' fill='none'/></svg><span class='t' style='left:46.54px;top:540.00px;font-size:15px;line-height:22px;color:#dfe5ef;letter-spacing:-0.214px;'>Sep 30, 2025 @ 11:21:35.464</span><span class='t' style='left:272.54px;top:540.00px;font-size:15px;line-height:22px;color:#1ba9f5;font-weight:700;letter-spacing:-0.334px;'>Client1</span><span class='t' style='left:439.44px;top:540.00px;font-size:15px;line-height:22px;color:#dfe5ef;letter-spacing:-0.052px;'>Executable dropped in Windows root folder</span><span class='t' style='left:896.00px;top:540.00px;font-size:15px;line-height:22px;color:#dfe5ef;transform:scaleX(1.35);transform-origin:0 50%;'>-</span><span class='t' style='left:1053.00px;top:540.00px;font-size:15px;line-height:22px;color:#dfe5ef;transform:scaleX(1.35);transform-origin:0 50%;'>-</span><span class='t' style='left:1104.10px;top:540.00px;font-size:15px;line-height:22px;color:#dfe5ef;transform:scaleX(1.35);transform-origin:0 50%;'>-</span><span class='t' style='left:1151.50px;top:540.00px;font-size:15px;line-height:22px;color:#dfe5ef;transform:scaleX(1.35);transform-origin:0 50%;'>-</span><span class='t' style='left:1287.80px;top:540.00px;font-size:15px;line-height:22px;color:#dfe5ef;transform:scaleX(1.35);transform-origin:0 50%;'>-</span><span class='t' style='left:1445.00px;top:540.00px;font-size:15px;line-height:22px;color:#dfe5ef;transform:scaleX(1.35);transform-origin:0 50%;'>-</span><span class='t' style='left:1588.30px;top:540.00px;font-size:15px;line-height:22px;color:#dfe5ef;transform:scaleX(1.35);transform-origin:0 50%;'>-</span><span class='t' style='left:1747.94px;top:540.00px;font-size:15px;line-height:22px;color:#dfe5ef;'>6</span><span class='t' style='left:1810.84px;top:540.00px;font-size:15px;line-height:22px;color:#1ba9f5;letter-spacing:0.749px;-webkit-text-stroke:0.2px #1ba9f5;'>92217</span><svg style='left:12px;top:578px' width='16' height='16' viewBox='0 0 16 16' fill='#1ba9f5' ><path d='M1.5 0h11A1.5 1.5 0 0 1 14 1.5V3.600a.5.5 0 0 1-1 0V1.500a.5.5 0 0 0-.5-.5h-11a.5.5 0 0 0-.5.5v11a.5.5 0 0 0 .5.5H3.600a.5.5 0 0 1 0 1H1.500A1.500 1.500 0 0 1 0 12.500v-11A1.500 1.500 0 0 1 1.500 0z'/><circle cx='2.5' cy='2.5' r='.55'/><circle cx='4.5' cy='2.5' r='.55'/><circle cx='6.5' cy='2.5' r='.55'/><circle cx='8.5' cy='2.5' r='.55'/><circle cx='10.5' cy='2.5' r='.55'/><circle cx='2.5' cy='4.5' r='.55'/><circle cx='2.5' cy='6.5' r='.55'/><circle cx='2.5' cy='8.5' r='.55'/><circle cx='2.5' cy='10.5' r='.55'/><circle cx='4.5' cy='4.5' r='.55'/><circle cx='9.050' cy='9.050' r='4.550' fill='none' stroke='#1ba9f5' stroke-width='1.050'/><path d='M12.400 12.400 15.550 15.550' stroke='#1ba9f5' stroke-width='1.050' stroke-linecap='round' fill='none'/></svg><span class='t' style='left:46.54px;top:574.00px;font-size:15px;line-height:22px;color:#dfe5ef;letter-spacing:-0.214px;'>Sep 30, 2025 @ 11:21:34.079</span><span class='t' style='left:272.44px;top:574.00px;font-size:15px;line-height:22px;color:#1ba9f5;font-weight:700;letter-spacing:-0.485px;width:154px;overflow:hidden;-webkit-mask-image:linear-gradient(to right,#000 calc(100% - 14px),transparent 100%);mask-image:linear-gradient(to right,#000 calc(100% - 14px),transparent 100%);'>Firewall.ssnrshnn.local</span><span class='t' style='left:439.44px;top:574.00px;font-size:15px;line-height:22px;color:#dfe5ef;letter-spacing:0.085px;'>Suricata Traffic - fileinfo.</span><span class='t' style='left:896.04px;top:574.00px;font-size:15px;line-height:22px;color:#dfe5ef;letter-spacing:-0.106px;'>10.1.4.40</span><span class='t' style='left:1053.00px;top:574.00px;font-size:15px;line-height:22px;color:#dfe5ef;transform:scaleX(1.35);transform-origin:0 50%;'>-</span><span class='t' style='left:1104.10px;top:574.00px;font-size:15px;line-height:22px;color:#dfe5ef;transform:scaleX(1.35);transform-origin:0 50%;'>-</span><span class='t' style='left:1151.54px;top:574.00px;font-size:15px;line-height:22px;color:#dfe5ef;letter-spacing:-0.106px;'>10.1.4.40</span><span class='t' style='left:1287.84px;top:574.00px;font-size:15px;line-height:22px;color:#dfe5ef;letter-spacing:0.246px;'>8888</span><span class='t' style='left:1445.04px;top:574.00px;font-size:15px;line-height:22px;color:#dfe5ef;letter-spacing:-0.106px;'>10.1.1.10</span><span class='t' style='left:1588.34px;top:574.00px;font-size:15px;line-height:22px;color:#dfe5ef;letter-spacing:0.149px;'>55420</span><span class='t' style='left:1747.94px;top:574.00px;font-size:15px;line-height:22px;color:#dfe5ef;'>3</span><span class='t' style='left:1810.84px;top:574.00px;font-size:15px;line-height:22px;color:#1ba9f5;letter-spacing:0.570px;-webkit-text-stroke:0.2px #1ba9f5;'>100002</span><svg style='left:12px;top:612px' width='16' height='16' viewBox='0 0 16 16' fill='#1ba9f5' ><path d='M1.5 0h11A1.5 1.5 0 0 1 14 1.5V3.600a.5.5 0 0 1-1 0V1.500a.5.5 0 0 0-.5-.5h-11a.5.5 0 0 0-.5.5v11a.5.5 0 0 0 .5.5H3.600a.5.5 0 0 1 0 1H1.500A1.500 1.500 0 0 1 0 12.500v-11A1.500 1.500 0 0 1 1.500 0z'/><circle cx='2.5' cy='2.5' r='.55'/><circle cx='4.5' cy='2.5' r='.55'/><circle cx='6.5' cy='2.5' r='.55'/><circle cx='8.5' cy='2.5' r='.55'/><circle cx='10.5' cy='2.5' r='.55'/><circle cx='2.5' cy='4.5' r='.55'/><circle cx='2.5' cy='6.5' r='.55'/><circle cx='2.5' cy='8.5' r='.55'/><circle cx='2.5' cy='10.5' r='.55'/><circle cx='4.5' cy='4.5' r='.55'/><circle cx='9.050' cy='9.050' r='4.550' fill='none' stroke='#1ba9f5' stroke-width='1.050'/><path d='M12.400 12.400 15.550 15.550' stroke='#1ba9f5' stroke-width='1.050' stroke-linecap='round' fill='none'/></svg><span class='t' style='left:46.54px;top:608.00px;font-size:15px;line-height:22px;color:#dfe5ef;letter-spacing:-0.214px;'>Sep 30, 2025 @ 11:21:09.737</span><span class='t' style='left:272.44px;top:608.00px;font-size:15px;line-height:22px;color:#1ba9f5;font-weight:700;letter-spacing:-0.485px;width:154px;overflow:hidden;'>Firewall.ssnrshnn.local</span><span class='t' style='left:439.44px;top:608.00px;font-size:15px;line-height:22px;color:#dfe5ef;letter-spacing:0.085px;'>Suricata Traffic - fileinfo.</span><span class='t' style='left:896.04px;top:608.00px;font-size:15px;line-height:22px;color:#dfe5ef;letter-spacing:-0.106px;'>10.1.4.40</span><span class='t' style='left:1053.00px;top:608.00px;font-size:15px;line-height:22px;color:#dfe5ef;transform:scaleX(1.35);transform-origin:0 50%;'>-</span><span class='t' style='left:1104.10px;top:608.00px;font-size:15px;line-height:22px;color:#dfe5ef;transform:scaleX(1.35);transform-origin:0 50%;'>-</span><span class='t' style='left:1151.54px;top:608.00px;font-size:15px;line-height:22px;color:#dfe5ef;letter-spacing:-0.106px;'>10.1.4.40</span><span class='t' style='left:1287.84px;top:608.00px;font-size:15px;line-height:22px;color:#dfe5ef;letter-spacing:0.246px;'>8888</span><span class='t' style='left:1445.04px;top:608.00px;font-size:15px;line-height:22px;color:#dfe5ef;letter-spacing:-0.106px;'>10.1.2.10</span><span class='t' style='left:1588.34px;top:608.00px;font-size:15px;line-height:22px;color:#dfe5ef;'>63581</span><span class='t' style='left:1747.94px;top:608.00px;font-size:15px;line-height:22px;color:#dfe5ef;'>3</span><span class='t' style='left:1810.84px;top:608.00px;font-size:15px;line-height:22px;color:#1ba9f5;letter-spacing:0.570px;-webkit-text-stroke:0.2px #1ba9f5;'>100002</span><svg style='left:12px;top:646px' width='16' height='16' viewBox='0 0 16 16' fill='#1ba9f5' ><path d='M1.5 0h11A1.5 1.5 0 0 1 14 1.5V3.600a.5.5 0 0 1-1 0V1.500a.5.5 0 0 0-.5-.5h-11a.5.5 0 0 0-.5.5v11a.5.5 0 0 0 .5.5H3.600a.5.5 0 0 1 0 1H1.500A1.500 1.500 0 0 1 0 12.500v-11A1.500 1.500 0 0 1 1.500 0z'/><circle cx='2.5' cy='2.5' r='.55'/><circle cx='4.5' cy='2.5' r='.55'/><circle cx='6.5' cy='2.5' r='.55'/><circle cx='8.5' cy='2.5' r='.55'/><circle cx='10.5' cy='2.5' r='.55'/><circle cx='2.5' cy='4.5' r='.55'/><circle cx='2.5' cy='6.5' r='.55'/><circle cx='2.5' cy='8.5' r='.55'/><circle cx='2.5' cy='10.5' r='.55'/><circle cx='4.5' cy='4.5' r='.55'/><circle cx='9.050' cy='9.050' r='4.550' fill='none' stroke='#1ba9f5' stroke-width='1.050'/><path d='M12.400 12.400 15.550 15.550' stroke='#1ba9f5' stroke-width='1.050' stroke-linecap='round' fill='none'/></svg><span class='t' style='left:46.54px;top:642.00px;font-size:15px;line-height:22px;color:#dfe5ef;letter-spacing:-0.214px;'>Sep 30, 2025 @ 11:21:09.516</span><span class='t' style='left:272.44px;top:642.00px;font-size:15px;line-height:22px;color:#1ba9f5;font-weight:700;letter-spacing:-0.485px;width:154px;overflow:hidden;-webkit-mask-image:linear-gradient(to right,#000 calc(100% - 14px),transparent 100%);mask-image:linear-gradient(to right,#000 calc(100% - 14px),transparent 100%);'>Firewall.ssnrshnn.local</span><span class='t' style='left:439.44px;top:642.00px;font-size:15px;line-height:22px;color:#dfe5ef;letter-spacing:0.085px;'>Suricata Traffic - fileinfo.</span><span class='t' style='left:896.04px;top:642.00px;font-size:15px;line-height:22px;color:#dfe5ef;letter-spacing:-0.106px;'>10.1.4.40</span><span class='t' style='left:1053.00px;top:642.00px;font-size:15px;line-height:22px;color:#dfe5ef;transform:scaleX(1.35);transform-origin:0 50%;'>-</span><span class='t' style='left:1104.10px;top:642.00px;font-size:15px;line-height:22px;color:#dfe5ef;transform:scaleX(1.35);transform-origin:0 50%;'>-</span><span class='t' style='left:1151.54px;top:642.00px;font-size:15px;line-height:22px;color:#dfe5ef;letter-spacing:-0.106px;'>10.1.4.40</span><span class='t' style='left:1287.84px;top:642.00px;font-size:15px;line-height:22px;color:#dfe5ef;letter-spacing:0.246px;'>8888</span><span class='t' style='left:1445.04px;top:642.00px;font-size:15px;line-height:22px;color:#dfe5ef;letter-spacing:-0.106px;'>10.1.2.10</span><span class='t' style='left:1588.34px;top:642.00px;font-size:15px;line-height:22px;color:#dfe5ef;'>63581</span><span class='t' style='left:1747.94px;top:642.00px;font-size:15px;line-height:22px;color:#dfe5ef;'>3</span><span class='t' style='left:1810.84px;top:642.00px;font-size:15px;line-height:22px;color:#1ba9f5;letter-spacing:0.570px;-webkit-text-stroke:0.2px #1ba9f5;'>100002</span><svg style='left:12px;top:680px' width='16' height='16' viewBox='0 0 16 16' fill='#1ba9f5' ><path d='M1.5 0h11A1.5 1.5 0 0 1 14 1.5V3.600a.5.5 0 0 1-1 0V1.500a.5.5 0 0 0-.5-.5h-11a.5.5 0 0 0-.5.5v11a.5.5 0 0 0 .5.5H3.600a.5.5 0 0 1 0 1H1.500A1.500 1.500 0 0 1 0 12.500v-11A1.500 1.500 0 0 1 1.500 0z'/><circle cx='2.5' cy='2.5' r='.55'/><circle cx='4.5' cy='2.5' r='.55'/><circle cx='6.5' cy='2.5' r='.55'/><circle cx='8.5' cy='2.5' r='.55'/><circle cx='10.5' cy='2.5' r='.55'/><circle cx='2.5' cy='4.5' r='.55'/><circle cx='2.5' cy='6.5' r='.55'/><circle cx='2.5' cy='8.5' r='.55'/><circle cx='2.5' cy='10.5' r='.55'/><circle cx='4.5' cy='4.5' r='.55'/><circle cx='9.050' cy='9.050' r='4.550' fill='none' stroke='#1ba9f5' stroke-width='1.050'/><path d='M12.400 12.400 15.550 15.550' stroke='#1ba9f5' stroke-width='1.050' stroke-linecap='round' fill='none'/></svg><span class='t' style='left:46.54px;top:676.00px;font-size:15px;line-height:22px;color:#dfe5ef;letter-spacing:-0.214px;'>Sep 30, 2025 @ 11:21:07.488</span><span class='t' style='left:272.44px;top:676.00px;font-size:15px;line-height:22px;color:#1ba9f5;font-weight:700;letter-spacing:-0.485px;width:154px;overflow:hidden;-webkit-mask-image:linear-gradient(to right,#000 calc(100% - 14px),transparent 100%);mask-image:linear-gradient(to right,#000 calc(100% - 14px),transparent 100%);'>Firewall.ssnrshnn.local</span><span class='t' style='left:439.44px;top:676.00px;font-size:15px;line-height:22px;color:#dfe5ef;letter-spacing:0.073px;'>Suricata Traffic - smb.</span><span class='t' style='left:896.00px;top:676.00px;font-size:15px;line-height:22px;color:#dfe5ef;transform:scaleX(1.35);transform-origin:0 50%;'>-</span><span class='t' style='left:1053.00px;top:676.00px;font-size:15px;line-height:22px;color:#dfe5ef;transform:scaleX(1.35);transform-origin:0 50%;'>-</span><span class='t' style='left:1104.10px;top:676.00px;font-size:15px;line-height:22px;color:#dfe5ef;transform:scaleX(1.35);transform-origin:0 50%;'>-</span><span class='t' style='left:1151.54px;top:676.00px;font-size:15px;line-height:22px;color:#dfe5ef;letter-spacing:-0.106px;'>10.1.2.10</span><span class='t' style='left:1287.84px;top:676.00px;font-size:15px;line-height:22px;color:#dfe5ef;letter-spacing:0.149px;'>62724</span><span class='t' style='left:1445.04px;top:676.00px;font-size:15px;line-height:22px;color:#dfe5ef;letter-spacing:-0.106px;'>10.1.1.10</span><span class='t' style='left:1588.34px;top:676.00px;font-size:15px;line-height:22px;color:#dfe5ef;letter-spacing:0.442px;'>445</span><span class='t' style='left:1747.94px;top:676.00px;font-size:15px;line-height:22px;color:#dfe5ef;'>3</span><span class='t' style='left:1810.84px;top:676.00px;font-size:15px;line-height:22px;color:#1ba9f5;letter-spacing:0.570px;-webkit-text-stroke:0.2px #1ba9f5;'>100002</span><svg style='left:12px;top:714px' width='16' height='16' viewBox='0 0 16 16' fill='#1ba9f5' ><path d='M1.5 0h11A1.5 1.5 0 0 1 14 1.5V3.600a.5.5 0 0 1-1 0V1.500a.5.5 0 0 0-.5-.5h-11a.5.5 0 0 0-.5.5v11a.5.5 0 0 0 .5.5H3.600a.5.5 0 0 1 0 1H1.500A1.500 1.500 0 0 1 0 12.500v-11A1.500 1.500 0 0 1 1.500 0z'/><circle cx='2.5' cy='2.5' r='.55'/><circle cx='4.5' cy='2.5' r='.55'/><circle cx='6.5' cy='2.5' r='.55'/><circle cx='8.5' cy='2.5' r='.55'/><circle cx='10.5' cy='2.5' r='.55'/><circle cx='2.5' cy='4.5' r='.55'/><circle cx='2.5' cy='6.5' r='.55'/><circle cx='2.5' cy='8.5' r='.55'/><circle cx='2.5' cy='10.5' r='.55'/><circle cx='4.5' cy='4.5' r='.55'/><circle cx='9.050' cy='9.050' r='4.550' fill='none' stroke='#1ba9f5' stroke-width='1.050'/><path d='M12.400 12.400 15.550 15.550' stroke='#1ba9f5' stroke-width='1.050' stroke-linecap='round' fill='none'/></svg><span class='t' style='left:46.54px;top:710.00px;font-size:15px;line-height:22px;color:#dfe5ef;letter-spacing:-0.214px;'>Sep 30, 2025 @ 11:21:07.486</span><span class='t' style='left:272.44px;top:710.00px;font-size:15px;line-height:22px;color:#1ba9f5;font-weight:700;letter-spacing:-0.485px;width:154px;overflow:hidden;'>Firewall.ssnrshnn.local</span><span class='t' style='left:439.44px;top:710.00px;font-size:15px;line-height:22px;color:#dfe5ef;letter-spacing:0.073px;'>Suricata Traffic - smb.</span><span class='t' style='left:896.00px;top:710.00px;font-size:15px;line-height:22px;color:#dfe5ef;transform:scaleX(1.35);transform-origin:0 50%;'>-</span><span class='t' style='left:1053.00px;top:710.00px;font-size:15px;line-height:22px;color:#dfe5ef;transform:scaleX(1.35);transform-origin:0 50%;'>-</span><span class='t' style='left:1104.10px;top:710.00px;font-size:15px;line-height:22px;color:#dfe5ef;transform:scaleX(1.35);transform-origin:0 50%;'>-</span><span class='t' style='left:1151.54px;top:710.00px;font-size:15px;line-height:22px;color:#dfe5ef;letter-spacing:-0.106px;'>10.1.2.10</span><span class='t' style='left:1287.84px;top:710.00px;font-size:15px;line-height:22px;color:#dfe5ef;letter-spacing:0.149px;'>62724</span><span class='t' style='left:1445.04px;top:710.00px;font-size:15px;line-height:22px;color:#dfe5ef;letter-spacing:-0.106px;'>10.1.1.10</span><span class='t' style='left:1588.34px;top:710.00px;font-size:15px;line-height:22px;color:#dfe5ef;letter-spacing:0.442px;'>445</span><span class='t' style='left:1747.94px;top:710.00px;font-size:15px;line-height:22px;color:#dfe5ef;'>3</span><span class='t' style='left:1810.84px;top:710.00px;font-size:15px;line-height:22px;color:#1ba9f5;letter-spacing:0.570px;-webkit-text-stroke:0.2px #1ba9f5;'>100002</span><svg style='left:12px;top:748px' width='16' height='16' viewBox='0 0 16 16' fill='#1ba9f5' ><path d='M1.5 0h11A1.5 1.5 0 0 1 14 1.5V3.600a.5.5 0 0 1-1 0V1.500a.5.5 0 0 0-.5-.5h-11a.5.5 0 0 0-.5.5v11a.5.5 0 0 0 .5.5H3.600a.5.5 0 0 1 0 1H1.500A1.500 1.500 0 0 1 0 12.500v-11A1.500 1.500 0 0 1 1.500 0z'/><circle cx='2.5' cy='2.5' r='.55'/><circle cx='4.5' cy='2.5' r='.55'/><circle cx='6.5' cy='2.5' r='.55'/><circle cx='8.5' cy='2.5' r='.55'/><circle cx='10.5' cy='2.5' r='.55'/><circle cx='2.5' cy='4.5' r='.55'/><circle cx='2.5' cy='6.5' r='.55'/><circle cx='2.5' cy='8.5' r='.55'/><circle cx='2.5' cy='10.5' r='.55'/><circle cx='4.5' cy='4.5' r='.55'/><circle cx='9.050' cy='9.050' r='4.550' fill='none' stroke='#1ba9f5' stroke-width='1.050'/><path d='M12.400 12.400 15.550 15.550' stroke='#1ba9f5' stroke-width='1.050' stroke-linecap='round' fill='none'/></svg><span class='t' style='left:46.54px;top:744.00px;font-size:15px;line-height:22px;color:#dfe5ef;letter-spacing:-0.214px;'>Sep 30, 2025 @ 11:21:05.472</span><span class='t' style='left:272.44px;top:744.00px;font-size:15px;line-height:22px;color:#1ba9f5;font-weight:700;letter-spacing:-0.485px;width:154px;overflow:hidden;'>Firewall.ssnrshnn.local</span><span class='t' style='left:439.44px;top:744.00px;font-size:15px;line-height:22px;color:#dfe5ef;letter-spacing:-0.056px;'>Suricata HTTP Traffic.</span><span class='t' style='left:896.04px;top:744.00px;font-size:15px;line-height:22px;color:#dfe5ef;letter-spacing:-0.106px;'>10.1.4.40</span><span class='t' style='left:1053.00px;top:744.00px;font-size:15px;line-height:22px;color:#dfe5ef;transform:scaleX(1.35);transform-origin:0 50%;'>-</span><span class='t' style='left:1104.10px;top:744.00px;font-size:15px;line-height:22px;color:#dfe5ef;transform:scaleX(1.35);transform-origin:0 50%;'>-</span><span class='t' style='left:1151.54px;top:744.00px;font-size:15px;line-height:22px;color:#dfe5ef;letter-spacing:-0.106px;'>10.1.1.10</span><span class='t' style='left:1287.84px;top:744.00px;font-size:15px;line-height:22px;color:#dfe5ef;letter-spacing:0.149px;'>55420</span><span class='t' style='left:1445.04px;top:744.00px;font-size:15px;line-height:22px;color:#dfe5ef;letter-spacing:-0.106px;'>10.1.4.40</span><span class='t' style='left:1588.34px;top:744.00px;font-size:15px;line-height:22px;color:#dfe5ef;letter-spacing:0.246px;'>8888</span><span class='t' style='left:1747.94px;top:744.00px;font-size:15px;line-height:22px;color:#dfe5ef;'>3</span><span class='t' style='left:1810.84px;top:744.00px;font-size:15px;line-height:22px;color:#1ba9f5;letter-spacing:0.610px;-webkit-text-stroke:0.2px #1ba9f5;'>100006</span><svg style='left:12px;top:782px' width='16' height='16' viewBox='0 0 16 16' fill='#1ba9f5' ><path d='M1.5 0h11A1.5 1.5 0 0 1 14 1.5V3.600a.5.5 0 0 1-1 0V1.500a.5.5 0 0 0-.5-.5h-11a.5.5 0 0 0-.5.5v11a.5.5 0 0 0 .5.5H3.600a.5.5 0 0 1 0 1H1.500A1.500 1.500 0 0 1 0 12.500v-11A1.500 1.500 0 0 1 1.500 0z'/><circle cx='2.5' cy='2.5' r='.55'/><circle cx='4.5' cy='2.5' r='.55'/><circle cx='6.5' cy='2.5' r='.55'/><circle cx='8.5' cy='2.5' r='.55'/><circle cx='10.5' cy='2.5' r='.55'/><circle cx='2.5' cy='4.5' r='.55'/><circle cx='2.5' cy='6.5' r='.55'/><circle cx='2.5' cy='8.5' r='.55'/><circle cx='2.5' cy='10.5' r='.55'/><circle cx='4.5' cy='4.5' r='.55'/><circle cx='9.050' cy='9.050' r='4.550' fill='none' stroke='#1ba9f5' stroke-width='1.050'/><path d='M12.400 12.400 15.550 15.550' stroke='#1ba9f5' stroke-width='1.050' stroke-linecap='round' fill='none'/></svg><span class='t' style='left:46.54px;top:778.00px;font-size:15px;line-height:22px;color:#dfe5ef;letter-spacing:-0.214px;'>Sep 30, 2025 @ 11:21:05.472</span><span class='t' style='left:272.44px;top:778.00px;font-size:15px;line-height:22px;color:#1ba9f5;font-weight:700;letter-spacing:-0.485px;width:154px;overflow:hidden;'>Firewall.ssnrshnn.local</span><span class='t' style='left:439.44px;top:778.00px;font-size:15px;line-height:22px;color:#dfe5ef;letter-spacing:0.085px;'>Suricata Traffic - fileinfo.</span><span class='t' style='left:896.04px;top:778.00px;font-size:15px;line-height:22px;color:#dfe5ef;letter-spacing:-0.106px;'>10.1.4.40</span><span class='t' style='left:1053.00px;top:778.00px;font-size:15px;line-height:22px;color:#dfe5ef;transform:scaleX(1.35);transform-origin:0 50%;'>-</span><span class='t' style='left:1104.10px;top:778.00px;font-size:15px;line-height:22px;color:#dfe5ef;transform:scaleX(1.35);transform-origin:0 50%;'>-</span><span class='t' style='left:1151.54px;top:778.00px;font-size:15px;line-height:22px;color:#dfe5ef;letter-spacing:-0.106px;'>10.1.1.10</span><span class='t' style='left:1287.84px;top:778.00px;font-size:15px;line-height:22px;color:#dfe5ef;letter-spacing:0.149px;'>55420</span><span class='t' style='left:1445.04px;top:778.00px;font-size:15px;line-height:22px;color:#dfe5ef;letter-spacing:-0.106px;'>10.1.4.40</span><span class='t' style='left:1588.34px;top:778.00px;font-size:15px;line-height:22px;color:#dfe5ef;letter-spacing:0.246px;'>8888</span><span class='t' style='left:1747.94px;top:778.00px;font-size:15px;line-height:22px;color:#dfe5ef;'>3</span><span class='t' style='left:1810.84px;top:778.00px;font-size:15px;line-height:22px;color:#1ba9f5;letter-spacing:0.570px;-webkit-text-stroke:0.2px #1ba9f5;'>100002</span><svg style='left:12px;top:816px' width='16' height='16' viewBox='0 0 16 16' fill='#1ba9f5' ><path d='M1.5 0h11A1.5 1.5 0 0 1 14 1.5V3.600a.5.5 0 0 1-1 0V1.500a.5.5 0 0 0-.5-.5h-11a.5.5 0 0 0-.5.5v11a.5.5 0 0 0 .5.5H3.600a.5.5 0 0 1 0 1H1.500A1.500 1.500 0 0 1 0 12.500v-11A1.500 1.500 0 0 1 1.500 0z'/><circle cx='2.5' cy='2.5' r='.55'/><circle cx='4.5' cy='2.5' r='.55'/><circle cx='6.5' cy='2.5' r='.55'/><circle cx='8.5' cy='2.5' r='.55'/><circle cx='10.5' cy='2.5' r='.55'/><circle cx='2.5' cy='4.5' r='.55'/><circle cx='2.5' cy='6.5' r='.55'/><circle cx='2.5' cy='8.5' r='.55'/><circle cx='2.5' cy='10.5' r='.55'/><circle cx='4.5' cy='4.5' r='.55'/><circle cx='9.050' cy='9.050' r='4.550' fill='none' stroke='#1ba9f5' stroke-width='1.050'/><path d='M12.400 12.400 15.550 15.550' stroke='#1ba9f5' stroke-width='1.050' stroke-linecap='round' fill='none'/></svg><span class='t' style='left:46.54px;top:812.00px;font-size:15px;line-height:22px;color:#dfe5ef;letter-spacing:-0.214px;'>Sep 30, 2025 @ 11:21:05.472</span><span class='t' style='left:272.44px;top:812.00px;font-size:15px;line-height:22px;color:#1ba9f5;font-weight:700;letter-spacing:-0.485px;width:154px;overflow:hidden;'>Firewall.ssnrshnn.local</span><span class='t' style='left:439.44px;top:812.00px;font-size:15px;line-height:22px;color:#dfe5ef;letter-spacing:-0.056px;'>Suricata HTTP Traffic.</span><span class='t' style='left:896.04px;top:812.00px;font-size:15px;line-height:22px;color:#dfe5ef;letter-spacing:-0.106px;'>10.1.4.40</span><span class='t' style='left:1053.00px;top:812.00px;font-size:15px;line-height:22px;color:#dfe5ef;transform:scaleX(1.35);transform-origin:0 50%;'>-</span><span class='t' style='left:1104.10px;top:812.00px;font-size:15px;line-height:22px;color:#dfe5ef;transform:scaleX(1.35);transform-origin:0 50%;'>-</span><span class='t' style='left:1151.54px;top:812.00px;font-size:15px;line-height:22px;color:#dfe5ef;letter-spacing:-0.106px;'>10.1.1.10</span><span class='t' style='left:1287.84px;top:812.00px;font-size:15px;line-height:22px;color:#dfe5ef;letter-spacing:0.149px;'>55420</span><span class='t' style='left:1445.04px;top:812.00px;font-size:15px;line-height:22px;color:#dfe5ef;letter-spacing:-0.106px;'>10.1.4.40</span><span class='t' style='left:1588.34px;top:812.00px;font-size:15px;line-height:22px;color:#dfe5ef;letter-spacing:0.246px;'>8888</span><span class='t' style='left:1747.94px;top:812.00px;font-size:15px;line-height:22px;color:#dfe5ef;'>3</span><span class='t' style='left:1810.84px;top:812.00px;font-size:15px;line-height:22px;color:#1ba9f5;letter-spacing:0.610px;-webkit-text-stroke:0.2px #1ba9f5;'>100006</span><svg style='left:12px;top:850px' width='16' height='16' viewBox='0 0 16 16' fill='#1ba9f5' ><path d='M1.5 0h11A1.5 1.5 0 0 1 14 1.5V3.600a.5.5 0 0 1-1 0V1.500a.5.5 0 0 0-.5-.5h-11a.5.5 0 0 0-.5.5v11a.5.5 0 0 0 .5.5H3.600a.5.5 0 0 1 0 1H1.500A1.500 1.500 0 0 1 0 12.500v-11A1.500 1.500 0 0 1 1.500 0z'/><circle cx='2.5' cy='2.5' r='.55'/><circle cx='4.5' cy='2.5' r='.55'/><circle cx='6.5' cy='2.5' r='.55'/><circle cx='8.5' cy='2.5' r='.55'/><circle cx='10.5' cy='2.5' r='.55'/><circle cx='2.5' cy='4.5' r='.55'/><circle cx='2.5' cy='6.5' r='.55'/><circle cx='2.5' cy='8.5' r='.55'/><circle cx='2.5' cy='10.5' r='.55'/><circle cx='4.5' cy='4.5' r='.55'/><circle cx='9.050' cy='9.050' r='4.550' fill='none' stroke='#1ba9f5' stroke-width='1.050'/><path d='M12.400 12.400 15.550 15.550' stroke='#1ba9f5' stroke-width='1.050' stroke-linecap='round' fill='none'/></svg><span class='t' style='left:46.54px;top:846.00px;font-size:15px;line-height:22px;color:#dfe5ef;letter-spacing:-0.214px;'>Sep 30, 2025 @ 11:21:05.467</span><span class='t' style='left:272.44px;top:846.00px;font-size:15px;line-height:22px;color:#1ba9f5;font-weight:700;letter-spacing:-0.485px;width:154px;overflow:hidden;'>Firewall.ssnrshnn.local</span><span class='t' style='left:439.44px;top:846.00px;font-size:15px;line-height:22px;color:#dfe5ef;letter-spacing:0.085px;'>Suricata Traffic - fileinfo.</span><span class='t' style='left:896.04px;top:846.00px;font-size:15px;line-height:22px;color:#dfe5ef;letter-spacing:-0.106px;'>10.1.4.40</span><span class='t' style='left:1053.00px;top:846.00px;font-size:15px;line-height:22px;color:#dfe5ef;transform:scaleX(1.35);transform-origin:0 50%;'>-</span><span class='t' style='left:1104.10px;top:846.00px;font-size:15px;line-height:22px;color:#dfe5ef;transform:scaleX(1.35);transform-origin:0 50%;'>-</span><span class='t' style='left:1151.54px;top:846.00px;font-size:15px;line-height:22px;color:#dfe5ef;letter-spacing:-0.106px;'>10.1.1.10</span><span class='t' style='left:1287.84px;top:846.00px;font-size:15px;line-height:22px;color:#dfe5ef;letter-spacing:0.149px;'>55420</span><span class='t' style='left:1445.04px;top:846.00px;font-size:15px;line-height:22px;color:#dfe5ef;letter-spacing:-0.106px;'>10.1.4.40</span><span class='t' style='left:1588.34px;top:846.00px;font-size:15px;line-height:22px;color:#dfe5ef;letter-spacing:0.246px;'>8888</span><span class='t' style='left:1747.94px;top:846.00px;font-size:15px;line-height:22px;color:#dfe5ef;'>3</span><span class='t' style='left:1810.84px;top:846.00px;font-size:15px;line-height:22px;color:#1ba9f5;letter-spacing:0.570px;-webkit-text-stroke:0.2px #1ba9f5;'>100002</span><div class='a' style='left:39px;top:498px;width:226px;height:34px;border:2px solid #1d5877;border-radius:2px'></div><svg style='left:211.6px;top:511.8px' width='12' height='12' viewBox='0 0 16 16' fill='#1ba9f5' ><path d='M8 16A8 8 0 1 1 8 0a8 8 0 0 1 0 16zm0-1A7 7 0 1 0 8 1a7 7 0 0 0 0 14z'/><path d='M7.5 4h1v3.500H12v1H8.500V12h-1V8.500H4v-1h3.500z'/></svg><svg style='left:229.7px;top:511.8px' width='12' height='12' viewBox='0 0 16 16' fill='#1ba9f5' ><path d='M8 16A8 8 0 1 1 8 0a8 8 0 0 1 0 16zm0-1A7 7 0 1 0 8 1a7 7 0 0 0 0 14z'/><path d='M4 7.500h8v1H4z'/></svg><div class='a' style='left:248px;top:512px;width:12px;height:12px;border-radius:2px;background:#1ba9f5'></div><svg style='left:248px;top:512px' width='12' height='12' viewBox='0 0 12 12'><path d='M3.2 8.800 8.800 3.200' stroke='#16171c' stroke-width='1.3' stroke-dasharray='1.6 1' fill='none'/><path d='M6.700 2.600h2.700v2.700zM2.600 6.700v2.700h2.700z' fill='#16171c'/></svg><div class='a' style='left:47px;top:470.7px;width:70px;height:36.2px;border-radius:18.1px;background:#fff'></div><svg style='left:55px;top:477px' width='24' height='24' viewBox='0 0 24 24' fill='none' stroke='#1f1f1f' stroke-width='1.35' stroke-linecap='round' stroke-linejoin='round'><g transform='translate(11.500 11.850) rotate(-43.500)'><rect x='-12.300' y='-2.150' width='24.600' height='4.300' rx='2.150'/><path d='M7.400 -2.150V2.150'/></g><path d='M3.800 5.700v4.500M1.550 7.950h4.500M18 13.700v4.500M15.750 15.950h4.500' stroke-width='1.250'/><circle cx='8.900' cy='2.750' r='1.300' fill='#1f1f1f' stroke='none'/><circle cx='11.950' cy='21' r='1.300' fill='#1f1f1f' stroke='none'/></svg><svg style='left:87px;top:477px' width='24' height='24' viewBox='0 0 24 24' fill='none' stroke='#1f1f1f' stroke-width='1.350' stroke-linecap='round' stroke-linejoin='round'><path d='M1.300 5.100h13.300'/><circle cx='7.500' cy='2.050' r='1.100' fill='#1f1f1f' stroke='none'/><path d='M10.700 5.800 3.300 14.400M4.500 8.900l7.100 5.200'/><path d='M11.400 22.300 16.950 11.700 22.600 22.300M13.400 18.500h7.100'/></svg><span class='t' style='left:9.94px;top:884.00px;font-size:15px;line-height:22px;color:#dfe5ef;letter-spacing:-0.350px;'>Rows per page: 15</span><svg style='left:138px;top:889px' width='12' height='12' viewBox='0 0 16 16' fill='#dfe5ef' ><path d='M13.069 5.157 8.384 9.768a.546.546 0 0 1-.768 0L2.93 5.158a.552.552 0 0 0-.771 0 .53.53 0 0 0 0 .759l4.684 4.61c.641.631 1.672.63 2.312 0l4.684-4.61a.53.53 0 0 0 0-.76.552.552 0 0 0-.771 0z'/></svg><span class='t' style='left:3182.01px;top:884.00px;font-size:15px;line-height:22px;color:#dfe5ef;'>1</span><span class='t' style='left:3233.81px;top:884.00px;font-size:15px;line-height:22px;color:#dfe5ef;letter-spacing:-0.209px;'>52</span><span class='t' style='left:3268.61px;top:884.00px;font-size:15px;line-height:22px;color:#dfe5ef;letter-spacing:0.291px;'>53</span><span class='t' style='left:3303.71px;top:884.00px;font-size:15px;line-height:22px;color:#dfe5ef;letter-spacing:0.191px;'>54</span><span class='t' style='left:3374.91px;top:884.00px;font-size:15px;line-height:22px;color:#dfe5ef;letter-spacing:0.191px;'>56</span><span class='t' style='left:3338.96px;top:884.00px;font-size:15px;line-height:22px;color:#1ba9f5;font-weight:700;letter-spacing:1.798px;'>55</span><div class='a' style='left:3339.5px;top:901.2px;width:17.5px;height:1.1px;background:#1ba9f5'></div><span class='t' style='left:3204.29px;top:884.00px;font-size:15px;line-height:22px;color:#5a606c;'>…</span><svg style='left:3155px;top:887px' width='12' height='16' viewBox='0 0 12 16' fill='none' stroke='#dfe5ef' stroke-width='1.1' stroke-linecap='round' stroke-linejoin='round'><path d='M9.300 3.200 3.300 8.200 9.300 13.200'/></svg><svg style='left:3407px;top:887px' width='12' height='16' viewBox='0 0 12 16' fill='none' stroke='#dfe5ef' stroke-width='1.1' stroke-linecap='round' stroke-linejoin='round'><path d='M3.300 3.200 9.300 8.200 3.300 13.200'/></svg></div></body></html>
